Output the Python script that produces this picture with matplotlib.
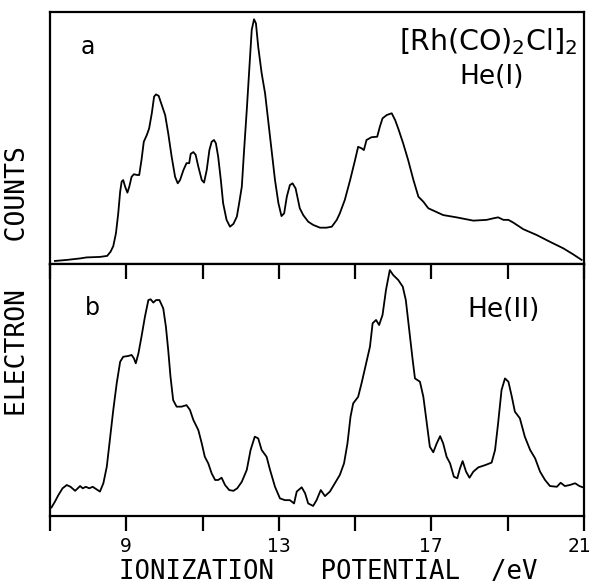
import numpy as np
import matplotlib
matplotlib.use("Agg")
import matplotlib.pyplot as plt
from matplotlib.transforms import ScaledTranslation

# He(I) spectrum (panel a): ionization potential / eV, relative counts
he1_ev = [7.13, 7.44, 7.79, 7.96, 8.31, 8.50, 8.59, 8.66, 8.73, 8.79, 8.84, 8.88,
          8.92, 8.97, 9.03, 9.08, 9.14, 9.20, 9.29, 9.34, 9.40, 9.46, 9.54, 9.60,
          9.67, 9.73, 9.78, 9.85, 9.93, 10.02, 10.10, 10.19, 10.28, 10.35, 10.41,
          10.50, 10.58, 10.65, 10.69, 10.76, 10.82, 10.89, 10.98, 11.04, 11.11,
          11.18, 11.24, 11.30, 11.35, 11.41, 11.48, 11.54, 11.63, 11.72, 11.81,
          11.90, 11.96, 12.03, 12.09, 12.16, 12.23, 12.29, 12.35, 12.40, 12.46,
          12.55, 12.64, 12.72, 12.81, 12.90, 12.99, 13.07, 13.14, 13.21, 13.29,
          13.36, 13.44, 13.55, 13.64, 13.77, 13.90, 14.08, 14.25, 14.39, 14.52,
          14.60, 14.73, 14.87, 15.00, 15.08, 15.17, 15.23, 15.30, 15.43, 15.58,
          15.65, 15.72, 15.83, 15.96, 16.05, 16.13, 16.26, 16.39, 16.53, 16.66,
          16.79, 16.92, 17.05, 17.31, 17.66, 18.10, 18.45, 18.62, 18.75, 18.89,
          19.02, 19.15, 19.41, 19.76, 20.11, 20.46, 20.72, 20.94]
he1_counts = [1.2, 1.6, 2.2, 2.6, 2.8, 3.2, 4.9, 7.1, 12.2, 20.1, 28.7, 32.7,
              33.3, 30.7, 28.3, 30.7, 34.6, 35.6, 35.3, 35.3, 41.3, 48.5, 51.2, 53.8,
              59.8, 66.4, 67.3, 66.7, 63.1, 59.1, 51.9, 42.6, 34.6, 32.0, 33.3,
              37.3, 40.0, 40.0, 43.7, 44.4, 43.3, 38.6, 33.3, 32.3, 37.3,
              45.2, 48.5, 49.2, 47.9, 42.6, 33.3, 24.1, 17.5, 14.8, 15.9,
              18.8, 24.1, 30.7, 45.2, 61.1, 78.3, 92.9, 97.1, 95.5, 86.2,
              75.7, 67.7, 57.1, 45.2, 33.3, 24.1, 19.0, 20.1, 26.7, 31.3,
              32.0, 30.0, 22.1, 19.4, 16.8, 15.5, 14.4, 14.4, 14.8, 17.5,
              20.1, 25.4, 33.3, 41.3, 46.5, 45.9, 45.2, 49.2, 50.3, 50.5,
              54.5, 57.8, 59.1, 59.8, 57.1, 53.8, 47.9, 41.3, 33.3, 26.7,
              24.7, 22.1, 21.2, 19.4, 18.5, 17.2, 17.5, 18.1, 18.5, 17.5,
              17.5, 16.4, 13.8, 11.5, 8.8, 6.2, 3.8, 1.6]

# He(II) spectrum (panel b)
he2_ev = [7.04, 7.13, 7.22, 7.33, 7.44, 7.54, 7.66, 7.79, 7.86, 7.94, 8.03, 8.12,
          8.22, 8.31, 8.40, 8.49, 8.57, 8.66, 8.75, 8.84, 8.92, 9.05, 9.14, 9.20,
          9.25, 9.32, 9.40, 9.49, 9.58, 9.64, 9.71, 9.78, 9.87, 9.97, 10.04,
          10.10, 10.16, 10.23, 10.32, 10.45, 10.58, 10.67, 10.76, 10.89, 10.98,
          11.06, 11.15, 11.24, 11.33, 11.41, 11.50, 11.59, 11.70, 11.81, 11.91,
          12.03, 12.16, 12.26, 12.37, 12.46, 12.55, 12.68, 12.77, 12.90, 13.03,
          13.16, 13.29, 13.40, 13.47, 13.60, 13.69, 13.77, 13.90, 13.99, 14.10,
          14.21, 14.34, 14.47, 14.60, 14.71, 14.80, 14.88, 14.95, 15.08, 15.17,
          15.29, 15.39, 15.46, 15.55, 15.63, 15.72, 15.81, 15.91, 16.00, 16.13,
          16.25, 16.33, 16.42, 16.51, 16.57, 16.70, 16.79, 16.88, 16.96, 17.05,
          17.14, 17.23, 17.31, 17.40, 17.49, 17.59, 17.68, 17.75, 17.82, 17.91,
          18.00, 18.10, 18.23, 18.41, 18.58, 18.67, 18.75, 18.84, 18.93, 19.02,
          19.11, 19.19, 19.32, 19.45, 19.59, 19.72, 19.85, 19.98, 20.11, 20.29,
          20.39, 20.50, 20.63, 20.77, 20.88, 20.97]
he2_counts = [3.4, 5.7, 8.3, 11.0, 12.3, 11.6, 10.0, 11.9, 11.0, 11.6, 11.0, 11.6,
              10.6, 9.7, 13.0, 19.6, 30.2, 42.1, 52.7, 61.2, 63.2, 63.5, 63.9, 62.6,
              60.6, 64.6, 71.2, 79.1, 85.7, 86.0, 84.7, 85.7, 85.7, 82.4, 75.1,
              65.9, 55.3, 46.0, 43.4, 43.4, 44.0, 42.1, 38.1, 34.1, 28.8,
              23.5, 20.9, 16.9, 14.3, 14.3, 15.2, 12.3, 10.3, 10.0, 11.0,
              13.6, 18.3, 26.2, 31.5, 30.8, 26.2, 23.5, 18.3, 11.6, 7.0,
              6.3, 6.3, 5.0, 9.7, 11.4, 9.0, 5.0, 4.0, 6.3, 10.3,
              7.9, 9.7, 13.0, 16.3, 20.9, 28.8, 39.4, 44.7, 47.3, 52.7,
              60.6, 67.2, 76.5, 77.8, 75.8, 79.8, 89.7, 97.6, 95.6, 93.7,
              91.0, 85.7, 73.8, 61.9, 54.6, 53.3, 47.3, 36.8, 27.5, 25.3,
              28.8, 31.7, 28.8, 23.5, 20.9, 15.6, 15.0, 18.9, 21.8, 17.6,
              15.2, 17.6, 19.3, 20.2, 21.2, 26.2, 36.8, 50.0, 54.6, 53.3,
              47.3, 41.4, 38.8, 31.5, 26.2, 22.9, 17.6, 14.3, 11.9, 11.6,
              13.2, 11.9, 12.3, 13.0, 11.9, 11.4]

tick_pos = [7, 9, 11, 13, 15, 17, 19, 21]
tick_labels = ["", "9", "", "13", "", "17", "", "21"]

fig = plt.figure(figsize=(5.9, 5.84), dpi=100)
ax_a = fig.add_axes([0.0847, 0.548, 0.905, 0.4315])
ax_b = fig.add_axes([0.0847, 0.1164, 0.905, 0.4315])

lw = 1.3
ax_a.plot(he1_ev, he1_counts, color="black", lw=lw)
ax_b.plot(he2_ev, he2_counts, color="black", lw=lw)

for ax in (ax_a, ax_b):
    ax.set_xlim(7, 21)
    ax.set_ylim(0, 100)
    ax.set_yticks([])
    for s in ax.spines.values():
        s.set_linewidth(1.6)

ax_a.set_xticks([])

ax_b.set_xticks(tick_pos)
ax_b.set_xticklabels(tick_labels, fontsize=13.5)
ax_b.tick_params(axis="x", which="both", direction="out", length=11, width=1.6,
                 top=True, labeltop=False, pad=4)
# ticks along the shared divider point down into panel b
for t in ax_b.xaxis.get_major_ticks():
    t.tick2line.set_marker(3)  # TICKDOWN
    t.tick2line.set_markersize(11)
    t.tick2line.set_markeredgewidth(1.6)
# keep the "21" inside the figure
last = ax_b.get_xticklabels()[-1]
last.set_transform(last.get_transform() + ScaledTranslation(-3.5 / 72, 0, fig.dpi_scale_trans))

mono = "DejaVu Sans Mono"
ax_b.set_xlabel("IONIZATION   POTENTIAL  /eV", fontsize=18.5, family=mono)
ax_b.xaxis.set_label_coords(0.521, -0.17)
fig.text(0.031, 0.519, "ELECTRON   COUNTS", rotation=90, fontsize=19,
         family=mono, ha="center", va="center")

ax_a.text(0.071, 0.861, "a", transform=ax_a.transAxes, fontsize=17,
          ha="center", va="center")
ax_a.text(0.987, 0.881, r"[Rh(CO)$_2$Cl]$_2$", transform=ax_a.transAxes,
          fontsize=20.5, ha="right", va="center")
ax_a.text(0.828, 0.742, "He(I)", transform=ax_a.transAxes, fontsize=19,
          ha="center", va="center")

ax_b.text(0.079, 0.825, "b", transform=ax_b.transAxes, fontsize=17,
          ha="center", va="center")
ax_b.text(0.850, 0.817, "He(II)", transform=ax_b.transAxes, fontsize=19,
          ha="center", va="center")

fig.savefig("out.png", dpi=100)
